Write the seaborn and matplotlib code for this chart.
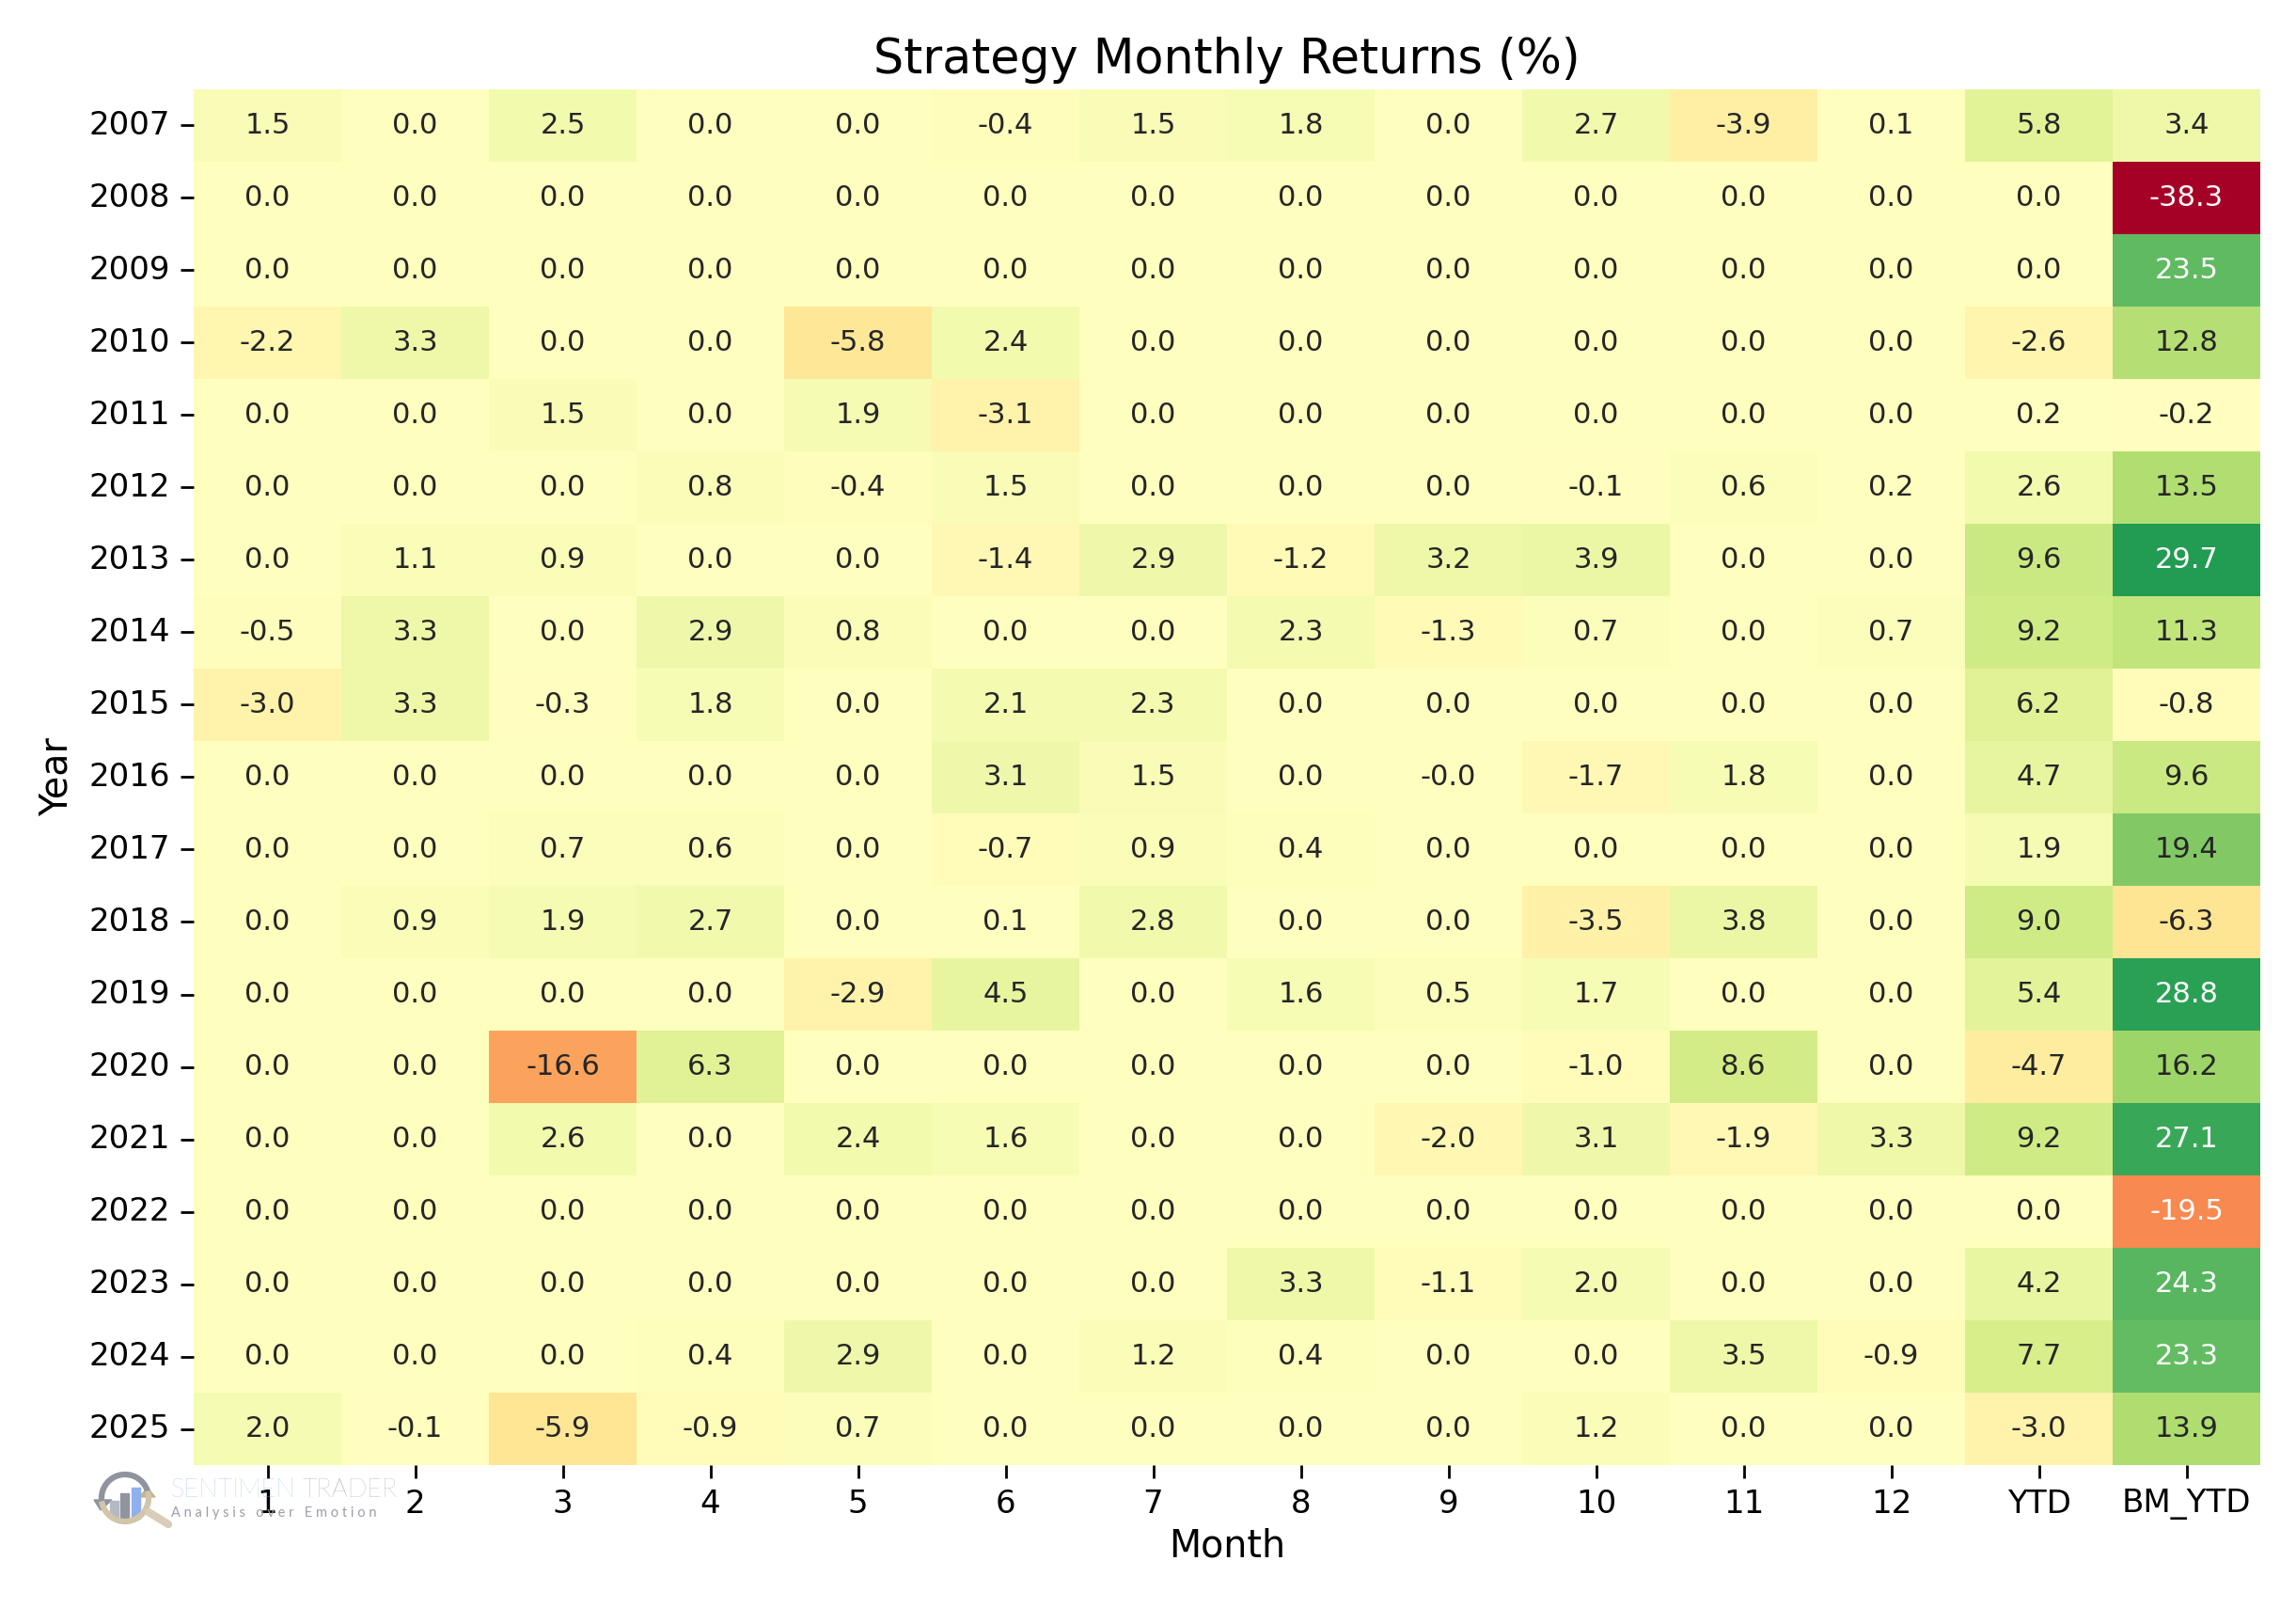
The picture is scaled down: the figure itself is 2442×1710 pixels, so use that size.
import numpy as np
import pandas as pd
import seaborn as sns
import matplotlib.pyplot as plt
from matplotlib.patches import Polygon, Rectangle

years = list(range(2007, 2026))
months = ['1', '2', '3', '4', '5', '6', '7', '8', '9', '10', '11', '12', 'YTD', 'BM_YTD']

r2007 = [1.5, 0.0, 2.5, 0.0, 0.0, -0.4, 1.5, 1.8, 0.0, 2.7, -3.9, 0.1, 5.8, 3.4]
r2008 = [0.0, 0.0, 0.0, 0.0, 0.0, 0.0, 0.0, 0.0, 0.0, 0.0, 0.0, 0.0, 0.0, -38.3]
r2009 = [0.0, 0.0, 0.0, 0.0, 0.0, 0.0, 0.0, 0.0, 0.0, 0.0, 0.0, 0.0, 0.0, 23.5]
r2010 = [-2.2, 3.3, 0.0, 0.0, -5.8, 2.4, 0.0, 0.0, 0.0, 0.0, 0.0, 0.0, -2.6, 12.8]
r2011 = [0.0, 0.0, 1.5, 0.0, 1.9, -3.1, 0.0, 0.0, 0.0, 0.0, 0.0, 0.0, 0.2, -0.2]
r2012 = [0.0, 0.0, 0.0, 0.8, -0.4, 1.5, 0.0, 0.0, 0.0, -0.1, 0.6, 0.2, 2.6, 13.5]
r2013 = [0.0, 1.1, 0.9, 0.0, 0.0, -1.4, 2.9, -1.2, 3.2, 3.9, 0.0, 0.0, 9.6, 29.7]
r2014 = [-0.5, 3.3, 0.0, 2.9, 0.8, 0.0, 0.0, 2.3, -1.3, 0.7, 0.0, 0.7, 9.2, 11.3]
r2015 = [-3.0, 3.3, -0.3, 1.8, 0.0, 2.1, 2.3, 0.0, 0.0, 0.0, 0.0, 0.0, 6.2, -0.8]
r2016 = [0.0, 0.0, 0.0, 0.0, 0.0, 3.1, 1.5, 0.0, -0.04, -1.7, 1.8, 0.0, 4.7, 9.6]
r2017 = [0.0, 0.0, 0.7, 0.6, 0.0, -0.7, 0.9, 0.4, 0.0, 0.0, 0.0, 0.0, 1.9, 19.4]
r2018 = [0.0, 0.9, 1.9, 2.7, 0.0, 0.1, 2.8, 0.0, 0.0, -3.5, 3.8, 0.0, 9.0, -6.3]
r2019 = [0.0, 0.0, 0.0, 0.0, -2.9, 4.5, 0.0, 1.6, 0.5, 1.7, 0.0, 0.0, 5.4, 28.8]
r2020 = [0.0, 0.0, -16.6, 6.3, 0.0, 0.0, 0.0, 0.0, 0.0, -1.0, 8.6, 0.0, -4.7, 16.2]
r2021 = [0.0, 0.0, 2.6, 0.0, 2.4, 1.6, 0.0, 0.0, -2.0, 3.1, -1.9, 3.3, 9.2, 27.1]
r2022 = [0.0, 0.0, 0.0, 0.0, 0.0, 0.0, 0.0, 0.0, 0.0, 0.0, 0.0, 0.0, 0.0, -19.5]
r2023 = [0.0, 0.0, 0.0, 0.0, 0.0, 0.0, 0.0, 3.3, -1.1, 2.0, 0.0, 0.0, 4.2, 24.3]
r2024 = [0.0, 0.0, 0.0, 0.4, 2.9, 0.0, 1.2, 0.4, 0.0, 0.0, 3.5, -0.9, 7.7, 23.3]
r2025 = [2.0, -0.1, -5.9, -0.9, 0.7, 0.0, 0.0, 0.0, 0.0, 1.2, 0.0, 0.0, -3.0, 13.9]

rows = [r2007, r2008, r2009, r2010, r2011, r2012, r2013, r2014, r2015, r2016,
        r2017, r2018, r2019, r2020, r2021, r2022, r2023, r2024, r2025]
df = pd.DataFrame(rows, index=years, columns=months)

fig = plt.figure(figsize=(24.42, 17.10), dpi=100)
ax = fig.add_axes([206 / 2442, 1 - 1558 / 1710, (2404 - 206) / 2442, (1558 - 95) / 1710])

sns.heatmap(df, annot=True, fmt='.1f', cmap='RdYlGn', center=0, cbar=False, ax=ax,
            annot_kws={'size': 22})

ax.set_title('Strategy Monthly Returns (%)', fontsize=36.5, pad=12)
ax.set_xlabel('Month', fontsize=28.5, labelpad=6)
ax.set_ylabel('Year', fontsize=28.5, labelpad=10)
ax.tick_params(axis='both', labelsize=24.5, length=10, width=2, pad=8)
plt.setp(ax.get_yticklabels(), rotation=0)
plt.setp(ax.get_xticklabels(), rotation=0)

# watermark logo, drawn in figure pixels
logo = fig.add_axes([0, 0, 1, 1], facecolor='none')
logo.set_xlim(0, 2442)
logo.set_ylim(1710, 0)
logo.axis('off')
cx, cy, rad = 133, 1593, 25

t = np.radians(np.linspace(170, 345, 40))
logo.plot(cx + rad * np.cos(t), cy + rad * np.sin(t), color='#8f949e', lw=4.5)
t = np.radians(np.linspace(-10, 165, 40))
logo.plot(cx + rad * np.cos(t), cy + rad * np.sin(t), color='#d2c5aa', lw=4.5)
logo.add_patch(Polygon([[100, 1595], [119, 1595], [107, 1606]], color='#8f949e'))
logo.add_patch(Polygon([[148, 1592], [165, 1592], [157, 1582]], color='#c9b48c'))
logo.plot([158, 179], [1608, 1621], color='#d8cdb8', lw=6, solid_capstyle='round')

for bx, top, bc in [(117, 1596, '#b4b9c4'), (128, 1588, '#8f949e'), (140, 1582, '#8fb0f0')]:
    logo.add_patch(Rectangle((bx, top), 9, 1615 - top, color=bc))

logo.text(182, 1584, 'SENTIMEN', fontsize=19.5, family='Lato', weight='light',
          color='#8fb0f5', va='center')
logo.text(322, 1584, 'TRADER', fontsize=19.5, family='Lato', weight='light',
          color='#9a9fa8', va='center')
logo.text(182, 1609, 'A n a l y s i s   o v e r   E m o t i o n', fontsize=10.5,
          family='Lato', color='#9a9fa8', va='center')

fig.savefig('out.png', dpi=100)
